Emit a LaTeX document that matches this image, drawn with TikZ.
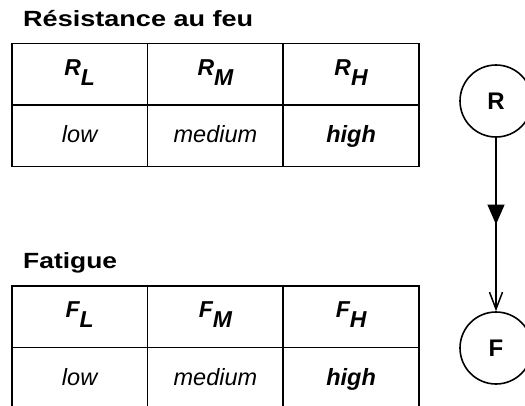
\documentclass[tikz,border=0pt]{standalone}
\usepackage{fontspec}
\usepackage{graphicx}
\setmainfont{Liberation Sans}
\usetikzlibrary{arrows.meta,decorations.markings}
\newcommand\lowsub[1]{\raisebox{-10pt}{#1}}
\begin{document}
\begin{tikzpicture}[x=1pt,y=-1pt,
 cellbox/.style={draw,line width=1.8pt,minimum width=135.8pt,minimum height=61.5pt,inner sep=0pt,anchor=center},
 headcell/.style={cellbox,font=\fontsize{23}{26}\selectfont\bfseries\itshape,text height=8pt,text depth=6pt},
 valcell/.style={cellbox,font=\fontsize{23.5}{27}\selectfont\itshape,text height=16pt,text depth=1.6pt},
 titlelabel/.style={anchor=base west,inner sep=0pt,font=\fontsize{22}{26}\selectfont\bfseries},
 statenode/.style={draw,circle,line width=1.6pt,minimum size=72pt,inner sep=0pt,font=\fontsize{24}{28}\selectfont\bfseries},
 conn/.style={line width=1.5pt,-{Straight Barb[length=17pt,width=13pt]},postaction={decorate},
   decoration={markings,mark=at position 0.5 with {\arrow{Triangle[length=20pt,width=17pt]}}}}
]
\path[use as bounding box] (0,0) rectangle (525,405);
\clip (0,0) rectangle (525,405);

% titles
\node[titlelabel] (t1) at (23,26.7) {\scalebox{1.23}[1]{Résistance au feu}};
\node[titlelabel] (t2) at (23,268.5) {\scalebox{1.2}[1]{Fatigue}};

% table 1
\node[headcell] (r1) at (79.6,74.25) {R\lowsub{L}};
\node[headcell] (r2) at (215.4,74.25) {R\lowsub{M}};
\node[headcell] (r3) at (351.1,74.25) {R\lowsub{H}};
\node[valcell] (v1) at (79.6,135.75) {low};
\node[valcell] (v2) at (215.4,135.75) {medium};
\node[valcell] (v3) at (351.1,135.75) {\bfseries high};

% table 2
\node[headcell] (f1) at (79.6,316.75) {F\lowsub{L}};
\node[headcell] (f2) at (215.4,316.75) {F\lowsub{M}};
\node[headcell] (f3) at (351.1,316.75) {F\lowsub{H}};
\node[valcell] (w1) at (79.6,378.25) {low};
\node[valcell] (w2) at (215.4,378.25) {medium};
\node[valcell] (w3) at (351.1,378.25) {\bfseries high};

% graph
\node[statenode] (R) at (496,101) {R};
\node[statenode] (F) at (496,348) {F};
\draw[conn] (R) -- (F);
\end{tikzpicture}
\end{document}
